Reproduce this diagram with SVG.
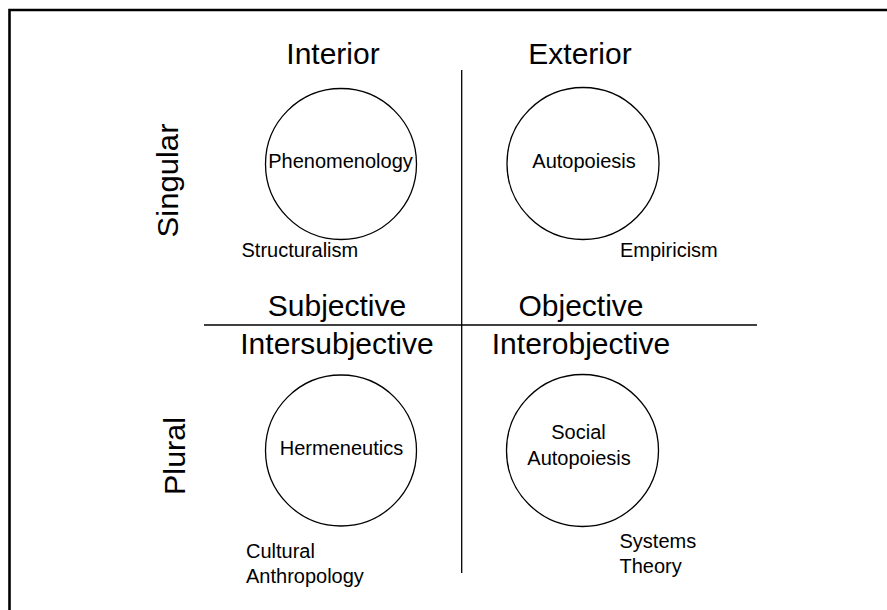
<svg xmlns="http://www.w3.org/2000/svg" width="887" height="610" viewBox="0 0 887 610">
<style>
text{font-family:"Liberation Sans",Arial,Helvetica,sans-serif;fill:#000}
.big{font-size:30px}
.sm{font-size:20px}
.mid{text-anchor:middle}
.node{fill:#fff;stroke:#000;stroke-width:1.3}
.axis{stroke:#000;stroke-width:1.3;fill:none}
.frame{stroke:#000;stroke-width:2.6;fill:none}
</style>
<rect width="887" height="610" fill="#fff"/>
<g id="frame">
<path class="frame" d="M887 10 H9.5 V610"/>
</g>
<g id="connectors">
<line class="axis" x1="461.7" y1="70" x2="461.7" y2="573"/>
<line class="axis" x1="204" y1="325" x2="757" y2="325"/>
</g>
<g id="labels">
<text class="big mid" x="333" y="64">Interior</text>
<text class="big mid" x="580" y="64">Exterior</text>
<text class="big mid" x="337" y="316">Subjective</text>
<text class="big mid" x="581" y="316">Objective</text>
<text class="big mid" x="337" y="354">Intersubjective</text>
<text class="big mid" x="581" y="354">Interobjective</text>
<text class="big mid" transform="translate(177.5 180.5) rotate(-90)" textLength="114" lengthAdjust="spacingAndGlyphs">Singular</text>
<text class="big mid" transform="translate(184.5 456) rotate(-90)" textLength="78" lengthAdjust="spacingAndGlyphs">Plural</text>
</g>
<g id="node-phenomenology">
<circle class="node" cx="341" cy="164" r="75.5"/>
<text class="sm mid" x="340.5" y="168">Phenomenology</text>
</g>
<g id="node-autopoiesis">
<circle class="node" cx="583" cy="163.5" r="76"/>
<text class="sm mid" x="584" y="168">Autopoiesis</text>
</g>
<g id="node-hermeneutics">
<circle class="node" cx="341" cy="450.5" r="75.5"/>
<text class="sm mid" x="341.5" y="455">Hermeneutics</text>
</g>
<g id="node-social-autopoiesis">
<circle class="node" cx="582.5" cy="450.5" r="76"/>
<text class="sm mid" x="578.5" y="439">Social</text>
<text class="sm mid" x="579" y="465">Autopoiesis</text>
</g>
<g id="node-structuralism">
<text class="sm" x="241.5" y="256.5">Structuralism</text>
</g>
<g id="node-empiricism">
<text class="sm" x="620" y="256.5">Empiricism</text>
</g>
<g id="node-cultural-anthropology">
<text class="sm" x="246" y="558">Cultural</text>
<text class="sm" x="246" y="583">Anthropology</text>
</g>
<g id="node-systems-theory">
<text class="sm" x="619.5" y="547.5">Systems</text>
<text class="sm" x="619.5" y="572.5">Theory</text>
</g>
</svg>
